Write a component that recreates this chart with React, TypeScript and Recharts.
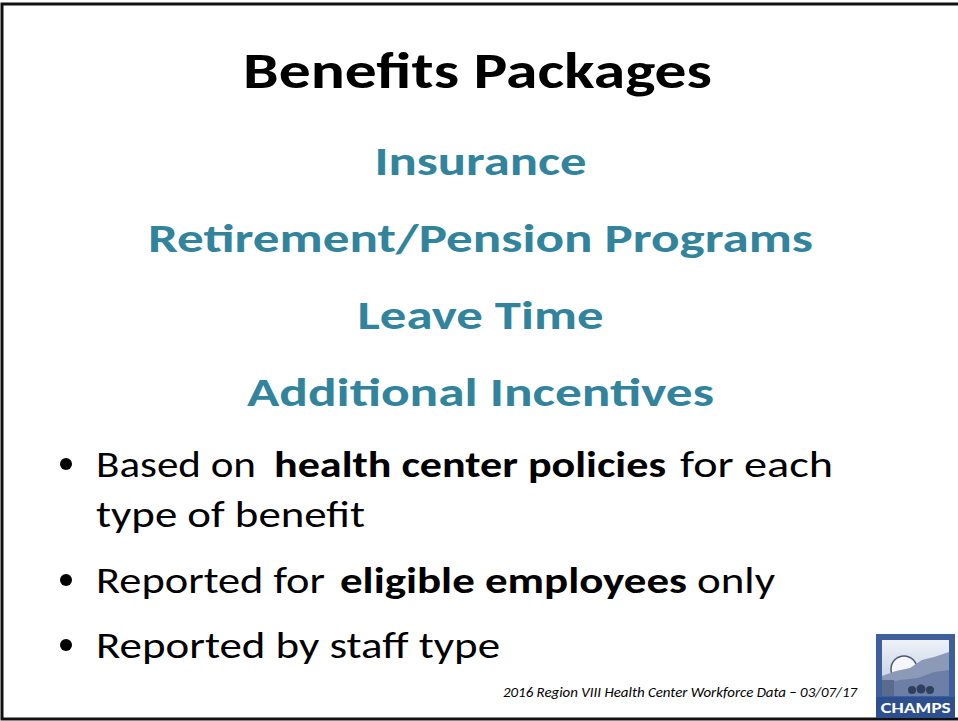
import { Surface, Layer } from 'recharts';

// slide content
const titleText = 'Benefits Packages';
const topics = ['Insurance', 'Retirement/Pension Programs', 'Leave Time', 'Additional Incentives'];
const bulletLines = [
  [{ t: 'Based on', b: false }, { t: 'health center policies', b: true }, { t: 'for each', b: false }],
  [{ t: 'type of benefit', b: false }],
  [{ t: 'Reported for', b: false }, { t: 'eligible employees', b: true }, { t: 'only', b: false }],
  [{ t: 'Reported by staff type', b: false }],
];
const hasBullet = [true, false, true, true];
const footerText = '2016 Region VIII Health Center Workforce Data \u2013 03/07/17';
const logoText = 'CHAMPS';

// layout measured off the slide
const W = 958;
const H = 721;
const FONT = 'Carlito, Lato, "Open Sans", sans-serif';
const TEAL = '#31849B';
const topicBase = [175, 252, 329, 406];
const topicWidth = [212, 665, 246, 467];
const bulletBase = [477, 527, 593, 658];
const segX = [[96, 274, 680], [96], [96, 340, 697], [96]];
const segW = [[160, 392, 153], [269], [229, 347, 78], [404]];

function Logo() {
  return (
    <Layer>
      <defs>
        <linearGradient id="sky" x1="0" y1="0" x2="0" y2="1">
          <stop offset="0%" stopColor="#eef2f8" />
          <stop offset="100%" stopColor="#b9c6dc" />
        </linearGradient>
      </defs>
      <rect x={876} y={634} width={79} height={84} fill="#3d5f9c" />
      <rect x={882} y={640} width={67} height={56} fill="url(#sky)" />
      <circle cx={904} cy={669} r={13} fill="#f4f6fa" stroke="#4a5a78" strokeWidth={1.5} />
      <path d="M882 676 L896 671 L910 668 L922 660 L934 657 L949 652 L949 690 L882 690 Z" fill="#8c9ab8" />
      <path d="M882 684 L900 680 L918 678 L934 672 L949 670 L949 696 L882 696 Z" fill="#6d7fa6" />
      <rect x={882} y={680} width={12} height={16} fill="#5a6b8e" />
      <circle cx={912} cy={690} r={4} fill="#2f3f5e" />
      <circle cx={921} cy={689} r={4.5} fill="#2f3f5e" />
      <circle cx={930} cy={690} r={4} fill="#2f3f5e" />
      <rect x={876} y={697} width={79} height={21} fill="#2d4f8e" />
      <text x={915.5} y={713} textAnchor="middle" fontFamily="Lato, sans-serif" fontWeight={900} fontSize={13} fill="#ffffff" textLength={70} lengthAdjust="spacingAndGlyphs">
        {logoText}
      </text>
    </Layer>
  );
}

export default function App() {
  return (
    <div style={{ position: 'absolute', left: 0, top: 0, width: W, height: H, background: '#fff' }}>
      <Surface width={W} height={H}>
        <rect x={0} y={0} width={W} height={H} fill="#ffffff" />
        <path d={`M${W} 4 L2 4 L2 719 L${W} 719`} fill="none" stroke="#111" strokeWidth={3} />

        <text x={477.5} y={88} textAnchor="middle" fontFamily={FONT} fontWeight={700} fontSize={50} fill="#000" textLength={469} lengthAdjust="spacingAndGlyphs">
          {titleText}
        </text>

        {topics.map((t, i) => (
          <text key={t} x={480.5} y={topicBase[i]} textAnchor="middle" fontFamily={FONT} fontWeight={700} fontSize={40} fill={TEAL} textLength={topicWidth[i]} lengthAdjust="spacingAndGlyphs">
            {t}
          </text>
        ))}

        {bulletLines.map((line, i) => (
          <Layer key={i}>
            {hasBullet[i] && <circle cx={66} cy={bulletBase[i] - 13} r={6} fill="#000" />}
            {line.map((s, j) => (
              <text key={j} x={segX[i][j]} y={bulletBase[i]} fontFamily={FONT} fontWeight={s.b ? 700 : 400} fontSize={36} fill="#000" textLength={segW[i][j]} lengthAdjust="spacingAndGlyphs">
                {s.t}
              </text>
            ))}
          </Layer>
        ))}

        <text x={503} y={697} fontFamily={FONT} fontStyle="italic" fontSize={15} fill="#000" textLength={354} lengthAdjust="spacingAndGlyphs">
          {footerText}
        </text>

        <Logo />
      </Surface>
    </div>
  );
}
